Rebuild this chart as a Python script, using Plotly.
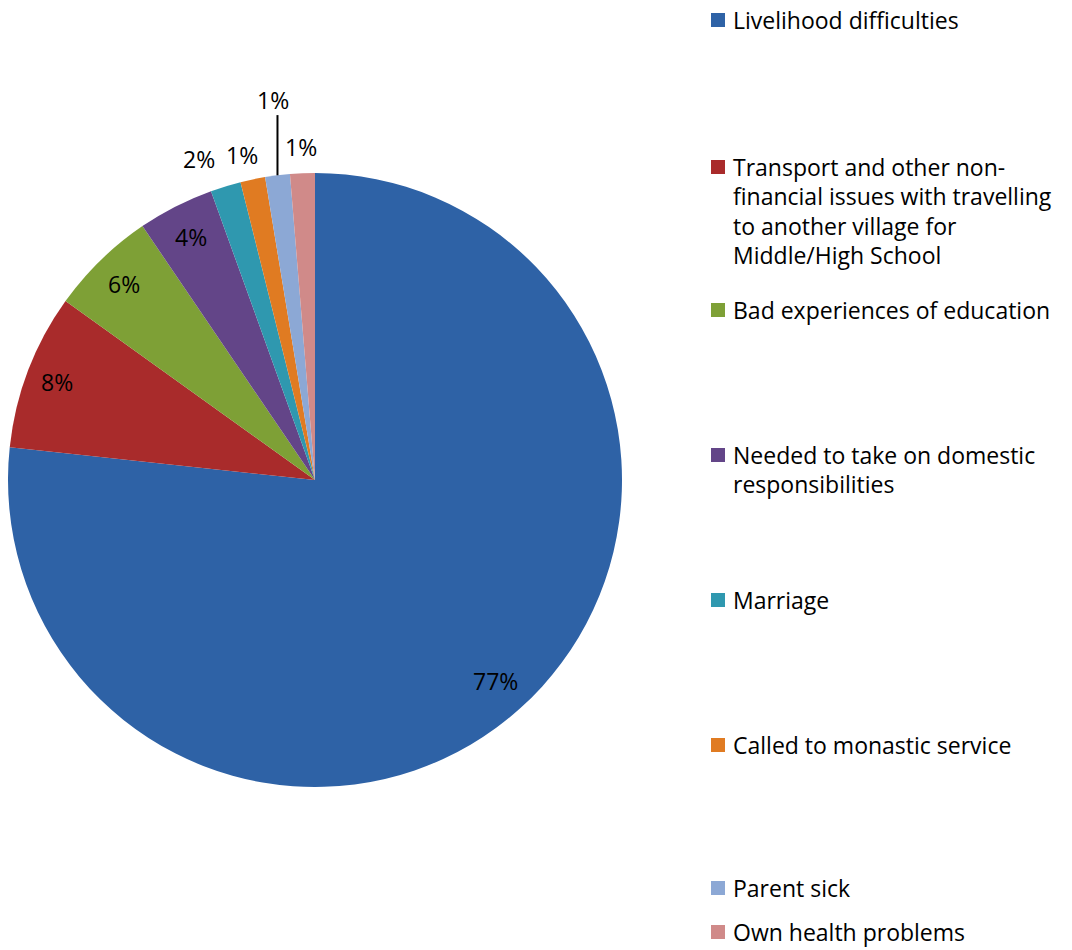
import math
import plotly.graph_objects as go

# ---- data ----
categories = [
    "Livelihood difficulties",
    "Transport and other non-financial issues with travelling to another village for Middle/High School",
    "Bad experiences of education",
    "Needed to take on domestic responsibilities",
    "Marriage",
    "Called to monastic service",
    "Parent sick",
    "Own health problems",
]
values = [76.7, 8.2, 5.6, 4.0, 1.6, 1.3, 1.3, 1.3]
legend_lines = [
    ["Livelihood difficulties"],
    ["Transport and other non-", "financial issues with travelling", "to another village for", "Middle/High School"],
    ["Bad experiences of education"],
    ["Needed to take on domestic", "responsibilities"],
    ["Marriage"],
    ["Called to monastic service"],
    ["Parent sick"],
    ["Own health problems"],
]

# ---- styles / layout ----
colors = ["#2E62A6", "#A92B2B", "#7EA036", "#634588", "#2F98AF", "#E07B22", "#8CA8D5", "#D08A89"]
W, H = 1072, 950
cx, cy, R = 315, 480, 307
FONT = "Open Sans"
FS = 23
# label placement per slice: (angle offset deg, radius factor)
label_pos = [(0, 0.88), (0, 0.90), (0, 0.89), (0, 0.89), (-2.9, 1.11), (-1.0, 1.085), (0.7, 1.245), (0, 1.085)]
leader = [False, False, False, False, False, False, True, False]
legend_y = [20, 167, 310, 455, 600, 745, 888, 932]
line_gap = 29.3
leg_sq_x, leg_txt_x, sq = 711, 731, 14

fig = go.Figure()
fig.add_trace(go.Pie(
    labels=categories, values=values, sort=False, direction="clockwise", rotation=0,
    marker=dict(colors=colors, line=dict(width=0)),
    textinfo="none", hoverinfo="label+percent", showlegend=False,
    domain=dict(x=[(cx - R) / W, (cx + R) / W], y=[1 - (cy + R) / H, 1 - (cy - R) / H]),
))

def px2paper(x, y):
    return x / W, 1 - y / H

annotations = []
shapes = []
total = sum(values)
cum = 0.0
for i, v in enumerate(values):
    mid = (cum + v / 2) / total * 360
    cum += v
    dth, f = label_pos[i]
    th = math.radians(mid + dth)
    lx = cx + f * R * math.sin(th)
    ly = cy - f * R * math.cos(th)
    pxp, pyp = px2paper(lx, ly)
    annotations.append(dict(x=pxp, y=pyp, xref="paper", yref="paper", text=f"{round(v / total * 100)}%",
                            showarrow=False, xanchor="center", yanchor="middle",
                            font=dict(family=FONT, size=FS, color="#000000")))
    if leader[i]:
        thm = math.radians(mid)
        ex = cx + R * math.sin(thm)
        ey = cy - R * math.cos(thm)
        x0, y0 = px2paper(ex, ey)
        x1, y1 = px2paper(ex, ly + 15)
        shapes.append(dict(type="line", xref="paper", yref="paper", x0=x0, y0=y0, x1=x1, y1=y1,
                           line=dict(color="#000000", width=2)))

for i, lines in enumerate(legend_lines):
    y0 = legend_y[i]
    a, b = px2paper(leg_sq_x, y0 - sq / 2)
    c, d = px2paper(leg_sq_x + sq, y0 + sq / 2)
    shapes.append(dict(type="rect", xref="paper", yref="paper", x0=a, y0=b, x1=c, y1=d,
                       fillcolor=colors[i], line=dict(width=0)))
    for j, t in enumerate(lines):
        tx, ty = px2paper(leg_txt_x, y0 + j * line_gap)
        annotations.append(dict(x=tx, y=ty, xref="paper", yref="paper", text=t, showarrow=False,
                                xanchor="left", yanchor="middle",
                                font=dict(family=FONT, size=FS, color="#000000")))

fig.update_layout(
    width=W, height=H, margin=dict(l=0, r=0, t=0, b=0),
    paper_bgcolor="white", plot_bgcolor="white",
    annotations=annotations, shapes=shapes,
)
fig.write_html("out.html")
